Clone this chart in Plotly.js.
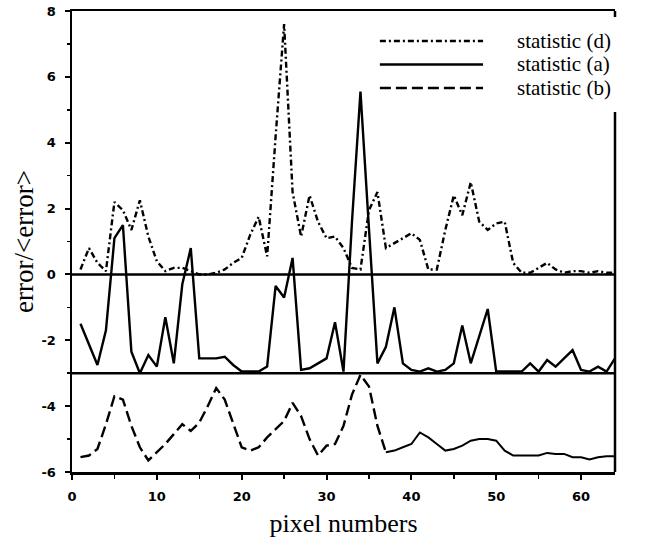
<!DOCTYPE html>
<html>
<head>
<meta charset="utf-8">
<script src="https://cdn.plot.ly/plotly-3.0.1.min.js"></script>
<style>
  html, body { margin: 0; padding: 0; background: #fff; }
  #chart { width: 646px; height: 538px; }
</style>
</head>
<body>
<div id="chart"></div>
<script>
// Pixel index along the scan line
const pixels = [1, 2, 3, 4, 5, 6, 7, 8, 9, 10, 11, 12, 13, 14, 15, 16,
  17, 18, 19, 20, 21, 22, 23, 24, 25, 26, 27, 28, 29, 30, 31, 32,
  33, 34, 35, 36, 37, 38, 39, 40, 41, 42, 43, 44, 45, 46, 47, 48,
  49, 50, 51, 52, 53, 54, 55, 56, 57, 58, 59, 60, 61, 62, 63, 64];

// Normalised error, statistic (d) (drawn without offset)
const statD = [0.15, 0.8, 0.35, 0.1, 2.2, 1.95, 1.35, 2.25, 1.15, 0.4, 0.1, 0.2, 0.2, 0.1, 0.0, 0.0,
  0.05, 0.15, 0.35, 0.5, 1.2, 1.75, 0.55, 4.2, 7.6, 2.5, 1.15, 2.4, 1.6, 1.1, 1.15, 0.8,
  0.2, 0.15, 1.95, 2.5, 0.8, 0.95, 1.1, 1.25, 1.05, 0.15, 0.15, 1.35, 2.4, 1.8, 2.8, 1.6,
  1.35, 1.55, 1.6, 0.35, 0.05, 0.05, 0.2, 0.35, 0.15, 0.05, 0.1, 0.1, 0.05, 0.1, 0.05, 0.05];

// Normalised error, statistic (a)
const statA = [1.5, 0.9, 0.25, 1.3, 4.1, 4.5, 0.65, 0.0, 0.55, 0.2, 1.7, 0.3, 2.7, 3.8, 0.45, 0.45,
  0.45, 0.5, 0.25, 0.05, 0.05, 0.05, 0.2, 2.65, 2.3, 3.5, 0.1, 0.15, 0.3, 0.45, 1.55, 0.05,
  4.6, 8.55, 4.4, 0.3, 0.8, 2.0, 0.3, 0.1, 0.05, 0.15, 0.05, 0.1, 0.3, 1.45, 0.3, 1.15,
  1.95, 0.05, 0.05, 0.05, 0.05, 0.3, 0.05, 0.4, 0.2, 0.45, 0.7, 0.1, 0.05, 0.2, 0.05, 0.45];

// Normalised error, statistic (b)
const statB = [0.45, 0.5, 0.7, 1.45, 2.3, 2.2, 1.4, 0.75, 0.35, 0.6, 0.85, 1.15, 1.45, 1.25, 1.5, 2.0,
  2.55, 2.2, 1.45, 0.75, 0.65, 0.75, 1.05, 1.3, 1.55, 2.1, 1.7, 1.0, 0.5, 0.8, 0.85, 1.4,
  2.35, 2.95, 2.6, 1.4, 0.6, 0.65, 0.75, 0.85, 1.2, 1.05, 0.85, 0.65, 0.7, 0.8, 0.95, 1.0,
  1.0, 0.95, 0.65, 0.5, 0.5, 0.5, 0.5, 0.58, 0.55, 0.55, 0.45, 0.45, 0.38, 0.45, 0.48, 0.48];

// Vertical offsets separating the three curves
const offsetD = 0;
const offsetA = -3;
const offsetB = -6;

// Axis ticks
const xTickVals = [0, 10, 20, 30, 40, 50, 60];
const xTickText = ['0', '10', '20', '30', '40', '50', '60'];
const xMinorVals = [5, 15, 25, 35, 45, 55];
const yTickVals = [-6, -4, -2, 0, 2, 4, 6, 8];
const yTickText = ['-6', '-4', '-2', '0', '2', '4', '6', '8'];
const yMinorVals = [-5, -3, -1, 1, 3, 5, 7];

// Legend entries
const legendLabels = ['statistic (d)', 'statistic (a)', 'statistic (b)'];

const shift = (arr, off) => arr.map(v => v + off);

const dashD = '6px,3px,2px,3px';
const dashB = '11px,5px';
const lw = 2.4;

// statistic (b): dashed up to pixel 37, continuous afterwards
const splitAt = pixels.indexOf(37);

const traces = [
  {
    name: legendLabels[0], x: pixels, y: shift(statD, offsetD),
    mode: 'lines', line: { color: '#000', width: lw, dash: dashD },
    showlegend: false
  },
  {
    name: legendLabels[1], x: pixels, y: shift(statA, offsetA),
    mode: 'lines', line: { color: '#000', width: lw },
    showlegend: false
  },
  {
    name: legendLabels[2], x: pixels.slice(0, splitAt + 1), y: shift(statB, offsetB).slice(0, splitAt + 1),
    mode: 'lines', line: { color: '#000', width: lw, dash: dashB },
    showlegend: false, legendgroup: 'b'
  },
  {
    name: legendLabels[2], x: pixels.slice(splitAt), y: shift(statB, offsetB).slice(splitAt),
    mode: 'lines', line: { color: '#000', width: 2 },
    showlegend: false, legendgroup: 'b'
  }
];

const serif = 'Liberation Serif, Times New Roman, serif';
const tickFont = { family: 'DejaVu Sans, sans-serif', size: 13, color: '#000', weight: 'bold' };

// Legend block drawn inside the upper right of the plot
const legX0 = 0.567, legX1 = 0.757, legTextX = 0.818;
const legY = [0.935, 0.884, 0.833];
const legDash = [dashD, 'solid', dashB];

const shapes = [
  // baselines of the offset curves
  { type: 'line', xref: 'paper', yref: 'y', x0: 0, x1: 1, y0: offsetD, y1: offsetD, line: { color: '#000', width: 2.5 } },
  { type: 'line', xref: 'paper', yref: 'y', x0: 0, x1: 1, y0: offsetA, y1: offsetA, line: { color: '#000', width: 2.5 } },
  // right frame edge, interrupted by the legend block
  { type: 'line', xref: 'paper', yref: 'paper', x0: 1, x1: 1, y0: 0, y1: 0.781, line: { color: '#000', width: 2.5 } },
  { type: 'line', xref: 'paper', yref: 'paper', x0: 1, x1: 1, y0: 0.987, y1: 1, line: { color: '#000', width: 2.5 } }
];
const annotations = [];
legendLabels.forEach((lab, i) => {
  shapes.push({
    type: 'line', xref: 'paper', yref: 'paper', x0: legX0, x1: legX1, y0: legY[i], y1: legY[i],
    line: { color: '#000', width: lw, dash: legDash[i] }
  });
  annotations.push({
    xref: 'paper', yref: 'paper', x: legTextX, y: legY[i], xanchor: 'left', yanchor: 'middle',
    text: lab, showarrow: false, borderpad: 0,
    font: { family: serif, size: 21, color: '#000' }
  });
});

const layout = {
  width: 646, height: 538,
  margin: { l: 72, r: 31, t: 11, b: 66 },
  paper_bgcolor: '#fff', plot_bgcolor: '#fff',
  showlegend: false,
  xaxis: {
    range: [0, 64], tickmode: 'array', tickvals: xTickVals, ticktext: xTickText,
    ticks: 'outside', ticklen: 5, tickwidth: 2, tickcolor: '#000',
    ticklabelstandoff: 6,
    minor: { tickmode: 'array', tickvals: xMinorVals, ticks: 'outside', ticklen: 4, tickwidth: 1.5, tickcolor: '#000' },
    showline: true, linewidth: 2.5, linecolor: '#000', mirror: true,
    showgrid: false, zeroline: false, tickfont: tickFont,
    title: { text: 'pixel numbers', font: { family: serif, size: 26, color: '#000' }, standoff: 13 }
  },
  yaxis: {
    range: [-6, 8], tickmode: 'array', tickvals: yTickVals, ticktext: yTickText,
    ticks: 'outside', ticklen: 5, tickwidth: 2, tickcolor: '#000',
    ticklabelstandoff: 6,
    minor: { tickmode: 'array', tickvals: yMinorVals, ticks: 'outside', ticklen: 3, tickwidth: 1.5, tickcolor: '#000' },
    showline: true, linewidth: 2.5, linecolor: '#000', mirror: false,
    showgrid: false, zeroline: false, tickfont: tickFont,
    title: { text: 'error/&lt;error&gt;', font: { family: serif, size: 27, color: '#000' }, standoff: 0 }
  },
  shapes: shapes,
  annotations: annotations
};

Plotly.newPlot('chart', traces, layout, { displayModeBar: false, staticPlot: true });
</script>
</body>
</html>
